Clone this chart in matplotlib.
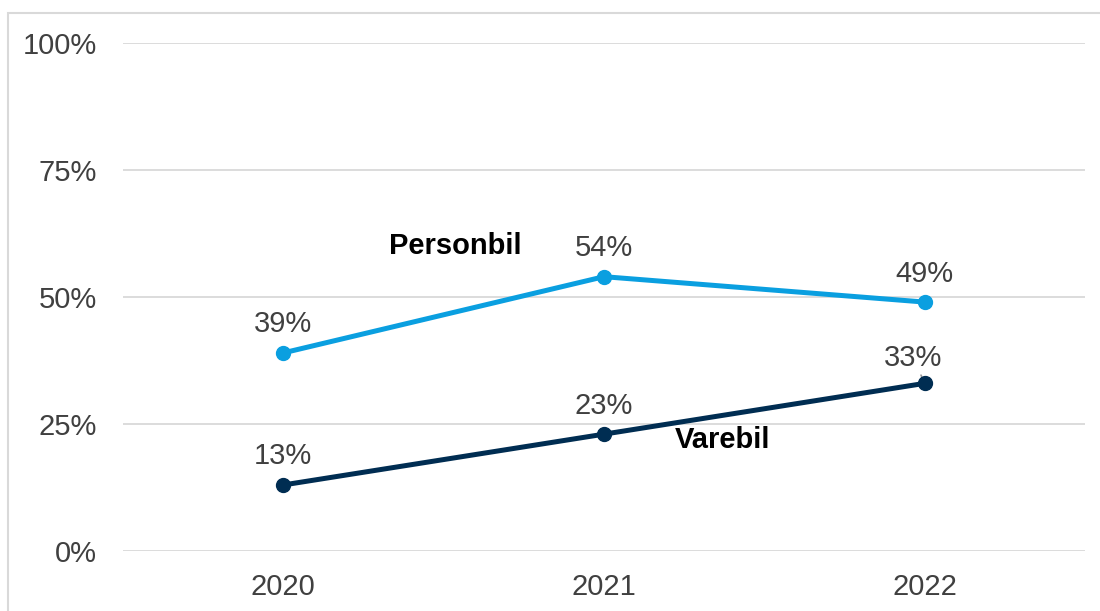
import matplotlib.pyplot as plt
from matplotlib.patches import Rectangle

years = ['2020', '2021', '2022']
personbil = [0.39, 0.54, 0.49]
varebil = [0.13, 0.23, 0.33]
y_ticks = [0, 0.25, 0.5, 0.75, 1.0]
y_tick_labels = ['0%', '25%', '50%', '75%', '100%']

plt.rcParams['font.family'] = ['Liberation Sans', 'DejaVu Sans']

W, H = 1100, 611
fig = plt.figure(figsize=(W / 100, H / 100), dpi=100)
ax = fig.add_axes([123 / W, (H - 551) / H, (1085 - 123) / W, (551 - 43) / H])

# light border around the chart area (cut off right and bottom)
fig.patches.append(Rectangle((8 / W, -0.1), 2, (H - 13) / H + 0.1,
                             transform=fig.transFigure, fill=False,
                             edgecolor='#d9d9d9', lw=1.5))

x = [i + 0.5 for i in range(len(years))]
blue = '#0a9fe0'
navy = '#002d52'

ax.plot(x, personbil, color=blue, lw=3.6, marker='o', ms=10, zorder=3)
ax.plot(x, varebil, color=navy, lw=3.6, marker='o', ms=10, zorder=3)

lab_kw = dict(ha='center', va='center', fontsize=21, color='#404040')
for xi, v in zip(x, personbil):
    ax.annotate(f'{v * 100:.0f}%', (xi, v), xytext=(0, 20.5),
                textcoords='offset points', **lab_kw)
for i, (xi, v) in enumerate(zip(x, varebil)):
    if i == 2:
        ax.annotate(f'{v * 100:.0f}%', (xi, v), xytext=(-8, 18),
                    textcoords='offset points', zorder=2,
                    arrowprops=dict(arrowstyle='-', color='#999999', lw=1.2,
                                    shrinkA=0, shrinkB=0), **lab_kw)
    else:
        ax.annotate(f'{v * 100:.0f}%', (xi, v), xytext=(0, 20.5),
                    textcoords='offset points', **lab_kw)

ax.text(1.035, 0.60, 'Personbil', fontsize=21, fontweight='bold',
        ha='center', va='center', color='black')
ax.text(1.87, 0.219, 'Varebil', fontsize=21, fontweight='bold',
        ha='center', va='center', color='black')

ax.set_xlim(0, 3)
ax.set_ylim(0, 1)
ax.set_xticks(x)
ax.set_xticklabels(years)
ax.set_yticks(y_ticks)
ax.set_yticklabels(y_tick_labels)
ax.tick_params(axis='both', length=0, labelsize=21, labelcolor='#404040')
ax.tick_params(axis='y', pad=19)
ax.tick_params(axis='x', pad=16)
ax.grid(axis='y', color='#d9d9d9', lw=1.3)
ax.set_axisbelow(True)
for s in ax.spines.values():
    s.set_visible(False)

fig.savefig('out.png', dpi=100)
